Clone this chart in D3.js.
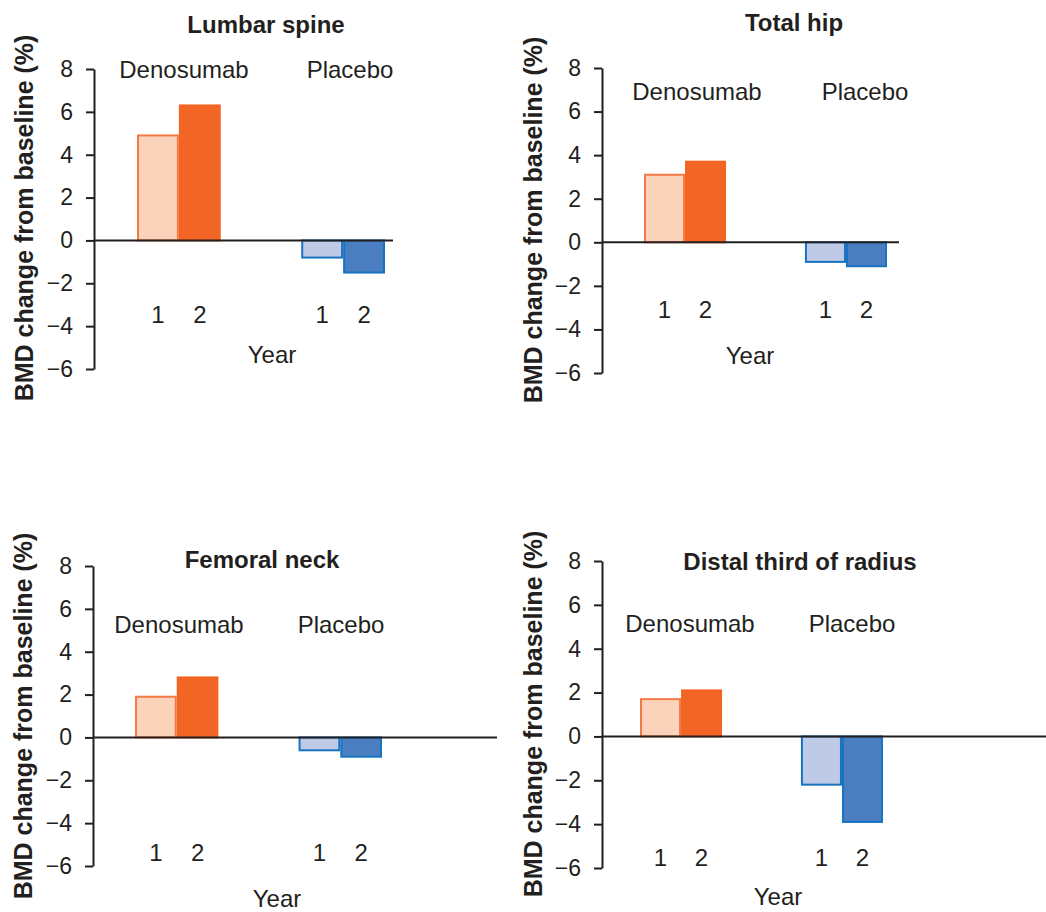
<!DOCTYPE html>
<html>
<head>
<meta charset="utf-8">
<script src="https://cdn.jsdelivr.net/npm/d3@7"></script>
<style>
  body { margin: 0; background: #fff; }
  svg text { font-family: "Liberation Sans", Arial, sans-serif; fill: #231f20; }
</style>
</head>
<body>
<div id="chart"></div>
<script>
// Chart data
const sites = ["Lumbar spine", "Total hip", "Femoral neck", "Distal third of radius"];
const groups = ["Denosumab", "Placebo"];
const years = ["1", "2"];
const denosumab = [[4.9, 6.3], [3.1, 3.7], [1.9, 2.8], [1.7, 2.1]];
const placebo = [[-0.8, -1.5], [-0.9, -1.1], [-0.6, -0.9], [-2.2, -3.9]];
const yTicks = [-6, -4, -2, 0, 2, 4, 6, 8];
const yLabel = "BMD change from baseline (%)";
const xLabel = "Year";

// Panel layout (pixels)
let panels = [
  {ax: 94, top: 69, bottom: 369, x0: 137, x1: 385, lineEnd: 393, titleX: 266, titleY: 33,
   labX: [184, 350], labY: 78, numY: 323, yearX: 272, yearY: 363, ylabX: 33, ylabY: 218},
  {ax: 602, top: 68, bottom: 373, x0: 644, x1: 887, lineEnd: 899, titleX: 794, titleY: 31,
   labX: [697, 865], labY: 100, numY: 318, yearX: 750, yearY: 364, ylabX: 542, ylabY: 220},
  {ax: 93, top: 566, bottom: 866, x0: 135, x1: 382, lineEnd: 497, titleX: 262, titleY: 568,
   labX: [179, 341], labY: 633, numY: 861, yearX: 277, yearY: 907, ylabX: 32, ylabY: 716},
  {ax: 602, top: 561, bottom: 868, x0: 640, x1: 883, lineEnd: 1046, titleX: 800, titleY: 570,
   labX: [690, 852], labY: 632, numY: 866, yearX: 778, yearY: 905, ylabX: 542, ylabY: 714}
];

let fills = {Denosumab: ["#fbd3ba", "#f26524"], Placebo: ["#bfcae6", "#4a7ec0"]};
let strokes = {Denosumab: ["#f47a45", "#f26524"], Placebo: ["#1874c0", "#1874c0"]};
let ink = "#231f20";

let svg = d3.select('#chart')
  .append('svg')
  .attr('width', 1046)
  .attr('height', 912);

panels.forEach(function(p, i){
  let g = svg.append('g');

  let y = d3.scaleLinear().domain([-6, 8]).range([p.bottom, p.top]);

  let x = d3.scaleBand()
    .domain(groups)
    .range([p.x0, p.x1])
    .paddingInner(0.49)
    .paddingOuter(0);

  let xYear = d3.scaleBand()
    .domain(years)
    .range([0, x.bandwidth()]);

  // y axis
  let axis = g.append('g')
    .attr('transform', 'translate(' + p.ax + ',0)')
    .call(d3.axisLeft(y).tickValues(yTicks).tickSize(8).tickSizeOuter(0).tickPadding(13));
  axis.select('.domain').attr('stroke', ink).attr('stroke-width', 2);
  axis.selectAll('.tick line').attr('stroke', ink).attr('stroke-width', 2);
  axis.selectAll('.tick text')
    .attr('font-size', 23)
    .attr('font-family', '"Liberation Sans", Arial, sans-serif')
    .attr('fill', ink);

  // bars
  let rows = [];
  groups.forEach(function(grp){
    let vals = grp == "Denosumab" ? denosumab[i] : placebo[i];
    years.forEach(function(yr, j){
      rows.push({group: grp, year: yr, j: j, value: vals[j]});
    });
  });

  g.selectAll('rect.bar')
    .data(rows)
    .enter()
    .append('rect')
    .attr('class', 'bar')
    .attr('x', function(d){ return x(d.group) + xYear(d.year) + 1; })
    .attr('width', xYear.bandwidth() - 2)
    .attr('y', function(d){ return Math.min(y(0), y(d.value)); })
    .attr('height', function(d){ return Math.abs(y(d.value) - y(0)); })
    .attr('fill', function(d){ return fills[d.group][d.j]; })
    .attr('stroke', function(d){ return strokes[d.group][d.j]; })
    .attr('stroke-width', 2);

  // zero line
  g.append('line')
    .attr('x1', p.ax)
    .attr('x2', p.lineEnd)
    .attr('y1', y(0))
    .attr('y2', y(0))
    .attr('stroke', ink)
    .attr('stroke-width', 2);

  // group labels
  g.selectAll('text.grp')
    .data(groups)
    .enter()
    .append('text')
    .attr('class', 'grp')
    .attr('x', function(d, k){ return p.labX[k]; })
    .attr('y', p.labY)
    .attr('text-anchor', 'middle')
    .attr('font-size', 24)
    .text(function(d){ return d; });

  // year numbers under each bar
  g.selectAll('text.num')
    .data(rows)
    .enter()
    .append('text')
    .attr('class', 'num')
    .attr('x', function(d){ return x(d.group) + xYear(d.year) + xYear.bandwidth() / 2; })
    .attr('y', p.numY)
    .attr('text-anchor', 'middle')
    .attr('font-size', 24)
    .text(function(d){ return d.year; });

  g.append('text')
    .attr('x', p.yearX)
    .attr('y', p.yearY)
    .attr('text-anchor', 'middle')
    .attr('font-size', 24)
    .text(xLabel);

  // title
  g.append('text')
    .attr('x', p.titleX)
    .attr('y', p.titleY)
    .attr('text-anchor', 'middle')
    .attr('font-size', 24)
    .attr('font-weight', 'bold')
    .text(sites[i]);

  // y label
  g.append('text')
    .attr('transform', 'translate(' + p.ylabX + ',' + p.ylabY + ') rotate(-90)')
    .attr('text-anchor', 'middle')
    .attr('font-size', 25)
    .attr('font-weight', 'bold')
    .text(yLabel);
});
</script>
</body>
</html>
